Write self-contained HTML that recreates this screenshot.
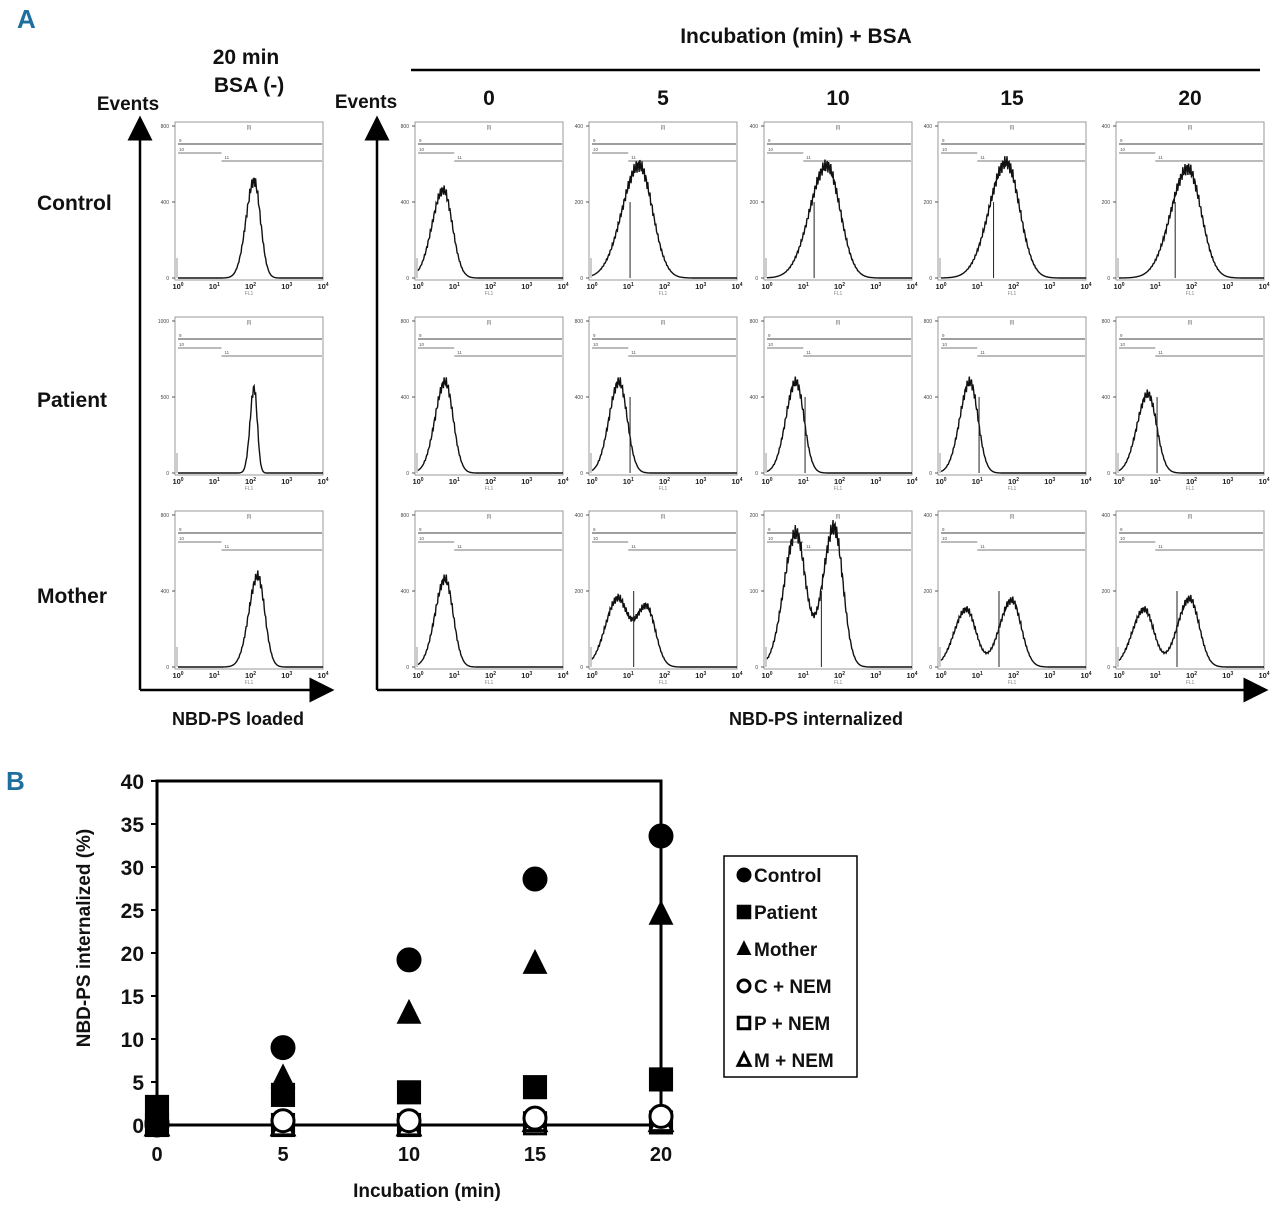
<!DOCTYPE html>
<html><head><meta charset="utf-8">
<style>
html,body{margin:0;padding:0;background:#fff;}
svg{display:block;font-family:"Liberation Sans",Arial,sans-serif;}
.b{font-weight:bold;fill:#111;}
</style></head>
<body>
<svg id="fig" width="1280" height="1205" viewBox="0 0 1280 1205">
<defs>
<marker id="ah" markerWidth="10" markerHeight="10" refX="5" refY="5" orient="auto"><path d="M0,0 L10,5 L0,10 z" fill="#000"/></marker>
</defs>
<text x="17" y="28" font-size="26" font-weight="bold" fill="#1f6f9e" font-family="Liberation Sans Narrow, Liberation Sans, sans-serif">A</text>
<text x="6" y="790" font-size="26" font-weight="bold" fill="#1f6f9e" font-family="Liberation Sans Narrow, Liberation Sans, sans-serif">B</text>

<text class="b" x="796" y="43" font-size="21" text-anchor="middle">Incubation (min) + BSA</text>
<line x1="411" y1="70" x2="1260" y2="70" stroke="#000" stroke-width="2.5"/>
<text class="b" x="246" y="64" font-size="21" text-anchor="middle">20 min</text>
<text class="b" x="249" y="92" font-size="21" text-anchor="middle">BSA (-)</text>
<text class="b" x="128" y="110" font-size="19" text-anchor="middle">Events</text>
<text class="b" x="366" y="108" font-size="19" text-anchor="middle">Events</text>
<text class="b" x="37" y="210" font-size="21">Control</text>
<text class="b" x="37" y="407" font-size="21">Patient</text>
<text class="b" x="37" y="603" font-size="21">Mother</text>
<text class="b" x="238" y="725" font-size="18" text-anchor="middle">NBD-PS loaded</text>
<text class="b" x="816" y="725" font-size="18" text-anchor="middle">NBD-PS internalized</text>

<line x1="140" y1="690" x2="140" y2="128" stroke="#000" stroke-width="2.5" marker-end="url(#ah)"/>
<line x1="140" y1="690" x2="322" y2="690" stroke="#000" stroke-width="2.5" marker-end="url(#ah)"/>
<line x1="377" y1="690" x2="377" y2="128" stroke="#000" stroke-width="2.5" marker-end="url(#ah)"/>
<line x1="377" y1="690" x2="1256" y2="690" stroke="#000" stroke-width="2.5" marker-end="url(#ah)"/>

<g id="hists"></g>
<g id="chartB"></g>
</svg>
<script>
var NS="http://www.w3.org/2000/svg";
function mk(tag,attrs,parent){var e=document.createElementNS(NS,tag);for(var k in attrs)e.setAttribute(k,attrs[k]);parent.appendChild(e);return e;}

// ---------- Panel A data ----------
var colHeaders=["0","5","10","15","20"];
var colLefts=[175,415,589,764,938,1116];
var rowTops=[122,317,511];
var yMaxLabels=[["800","800","400","400","400","400"],["1000","800","800","800","800","800"],["800","800","400","200","400","400"]];
var yMidLabels=[["400","400","200","200","200","200"],["500","400","400","400","400","400"],["400","400","200","100","200","200"]];
// peaks per panel: [centerDecade, heightFrac, widthDecade] list
var peaks=[
 [[[2.1,0.64,0.2]],[[0.7,0.58,0.28]],[[1.3,0.74,0.42]],[[1.65,0.74,0.42]],[[1.8,0.76,0.42]],[[1.9,0.72,0.42]]],
 [[[2.1,0.56,0.1]],[[0.75,0.6,0.25]],[[0.75,0.6,0.25]],[[0.8,0.6,0.25]],[[0.8,0.6,0.25]],[[0.8,0.52,0.27]]],
 [[[2.2,0.6,0.22]],[[0.75,0.58,0.25]],[[0.7,0.44,0.3],[1.5,0.4,0.28]],[[0.8,0.88,0.3],[1.85,0.92,0.28]],[[0.7,0.38,0.3],[1.95,0.44,0.3]],[[0.7,0.38,0.3],[1.95,0.45,0.3]]]
];
var gateX=[[1.2,1.2],[1.0,1.3],[1.0,1.3],[1.0,1.3],[1.0,1.3],[1.0,1.3]];

var H=document.getElementById('hists');
colHeaders.forEach(function(c,i){
  var t=mk('text',{x:(colLefts[i+1]+74),y:105,'font-size':21,'text-anchor':'middle','class':'b'},H);
  t.textContent=c;
  
  
});
var W=148,HH=158;
for(var r=0;r<3;r++){for(var c=0;c<6;c++){
  var x0=colLefts[c],y0=rowTops[r];
  var g=mk('g',{},H);
  
  
  mk('rect',{x:x0,y:y0,width:W,height:HH,fill:'none',stroke:'#999','stroke-width':1},g);
  var px=function(d){return x0+3+d*(W-3)/4;};
  var base=y0+HH-2;
  // y ticks
  [[0,'0'],[0.5,yMidLabels[r][c]],[1,yMaxLabels[r][c]]].forEach(function(tk){
    var yy=base-tk[0]*(HH-6);
    mk('line',{x1:x0-3,y1:yy,x2:x0,y2:yy,stroke:'#555'},g);
    var t=mk('text',{x:x0-6,y:yy+2,'font-size':5,'text-anchor':'end',fill:'#444'},g);t.textContent=tk[1];
  });
  // x labels
  for(var d=0;d<=4;d++){
    var t=mk('text',{x:px(d),y:y0+HH+9,'font-size':7.5,'text-anchor':'middle',fill:'#222','font-weight':'bold'},g);
    t.textContent='10';
    var s=mk('tspan',{'font-size':5,dy:-3},t);s.textContent=String(d);
  }
  var fl=mk('text',{x:x0+W/2,y:y0+HH+15,'font-size':5,'text-anchor':'middle',fill:'#888'},g);fl.textContent='FL1';
  var lab=mk('text',{x:x0+W/2,y:y0+7,'font-size':5,'text-anchor':'middle',fill:'#444'},g);lab.textContent='(I)';
  // gates
  var gy1=y0+22,gy2=y0+31,gy3=y0+39;
  var gx=px(gateX[c][0]);
  mk('line',{x1:px(0),y1:gy1,x2:x0+W-1,y2:gy1,stroke:'#666','stroke-width':1.3},g);
  mk('line',{x1:px(0),y1:gy2,x2:gx,y2:gy2,stroke:'#777','stroke-width':0.9},g);
  mk('line',{x1:gx,y1:gy3,x2:x0+W-1,y2:gy3,stroke:'#777','stroke-width':0.9},g);
  [['9',px(0),gy1-2],['10',px(0),gy2-2],['11',gx+2,gy3-2]].forEach(function(q){var t=mk('text',{x:q[1]+1,y:q[2],'font-size':4.5,fill:'#555'},g);t.textContent=q[0];});
  // curve
  var pts=[],pk=peaks[r][c];
  for(var i=0;i<=200;i++){
    var d2=i/50,v=0;
    pk.forEach(function(p){var z=(d2-p[0])/p[2];v+=p[1]*Math.exp(-0.5*z*z*(d2<p[0]?0.8:1.3));});
    v*=1+0.06*Math.sin(i*2.3)*(v>0.05?1:0);
    pts.push(px(d2).toFixed(1)+','+(base-v*(HH-6)).toFixed(1));
  }
  var pl=mk('polyline',{points:pts.join(' '),fill:'none',stroke:'#111','stroke-width':1.4},g);
  
  
  if(c>=2){var m=pk[pk.length-1][0]-0.35;mk('line',{x1:px(Math.max(1.05,m)),y1:base,x2:px(Math.max(1.05,m)),y2:base-0.5*(HH-6),stroke:'#222','stroke-width':1},g);}
  mk('line',{x1:x0+2,y1:base,x2:x0+2,y2:base-20,stroke:'#bbb','stroke-width':1.5},g);
}}

// ---------- Panel B data ----------
var times=[0,5,10,15,20];
var yTicks=[0,5,10,15,20,25,30,35,40];
var control=[0.3,9,19.2,28.6,33.6];
var patient=[2.1,3.5,3.8,4.4,5.3];
var mother=[0,5.5,13,18.8,24.5];
var cNem=[0,0.5,0.5,0.8,1.0];
var pNem=[0,0,0,0.2,0.3];
var mNem=[0,0,0,0.5,0.5];
var legendLabels=["Control","Patient","Mother","C + NEM","P + NEM","M + NEM"];

var B=document.getElementById('chartB');
function sx(t){return 157+t*(661-157)/20;}
function sy(v){return 1125-v*(1125-781)/40;}
var frame=mk('path',{d:'M'+sx(0)+','+sy(40)+' H'+sx(20)+' V'+sy(0)+' H'+sx(0)+' Z',fill:'none',stroke:'#000','stroke-width':3},B);


yTicks.forEach(function(v){
  mk('line',{x1:sx(0)-6,y1:sy(v),x2:sx(0),y2:sy(v),stroke:'#000','stroke-width':2},B);
  var t=mk('text',{x:sx(0)-13,y:sy(v)+8,'font-size':21,'text-anchor':'end','class':'b'},B);
  t.textContent=String(v);
  
  
});
times.forEach(function(tm){
  var t=mk('text',{x:sx(tm),y:1161,'font-size':20,'text-anchor':'middle','class':'b'},B);
  t.textContent=String(tm);
  
  
});
var xt=mk('text',{x:427,y:1197,'font-size':19,'text-anchor':'middle','class':'b'},B);
xt.textContent='Incubation (min)';


var yt=mk('text',{x:0,y:0,'font-size':19,'text-anchor':'middle','class':'b',transform:'translate(90,938) rotate(-90)'},B);
yt.textContent='NBD-PS internalized (%)';



function marker(kind,x,y,s,parent){
  var fill=kind<3?'#000':'#fff',e;
  var k=kind%3;
  if(k===0)e=mk('circle',{cx:x,cy:y,r:s*0.5,fill:fill,stroke:'#000','stroke-width':3},parent);
  else if(k===1)e=mk('rect',{x:x-s*0.48,y:y-s*0.48,width:s*0.96,height:s*0.96,fill:fill,stroke:'#000','stroke-width':3},parent);
  else e=mk('polygon',{points:(x)+','+(y-s*0.55)+' '+(x+s*0.5)+','+(y+s*0.45)+' '+(x-s*0.5)+','+(y+s*0.45),fill:fill,stroke:'#000','stroke-width':3},parent);
  return e;
}
var series=[control,patient,mother,cNem,pNem,mNem];
var names=['control','patient','mother','c-nem','p-nem','m-nem'];
[4,5,3,0,1,2].forEach(function(si){
  series[si].forEach(function(v,i){
    var e=marker(si,sx(times[i]),sy(v),si===2?20:22,B);
    
    
  });
});
mk('rect',{x:sx(0)-10,y:sy(0)-2,width:22,height:14,fill:'#000'},B);

var lg=mk('g',{},B);


mk('rect',{x:724,y:856,width:133,height:221,fill:'#fff',stroke:'#000','stroke-width':1.5},lg);
legendLabels.forEach(function(l,i){
  var yy=875+i*37;
  var g=mk('g',{},lg);
  
  
  marker(i,744,yy,i<3?(i===2?10:12):12,g);
  var t=mk('text',{x:754,y:yy+7,'font-size':19,'class':'b'},g);t.textContent=l;
});
</script>
</body></html>
